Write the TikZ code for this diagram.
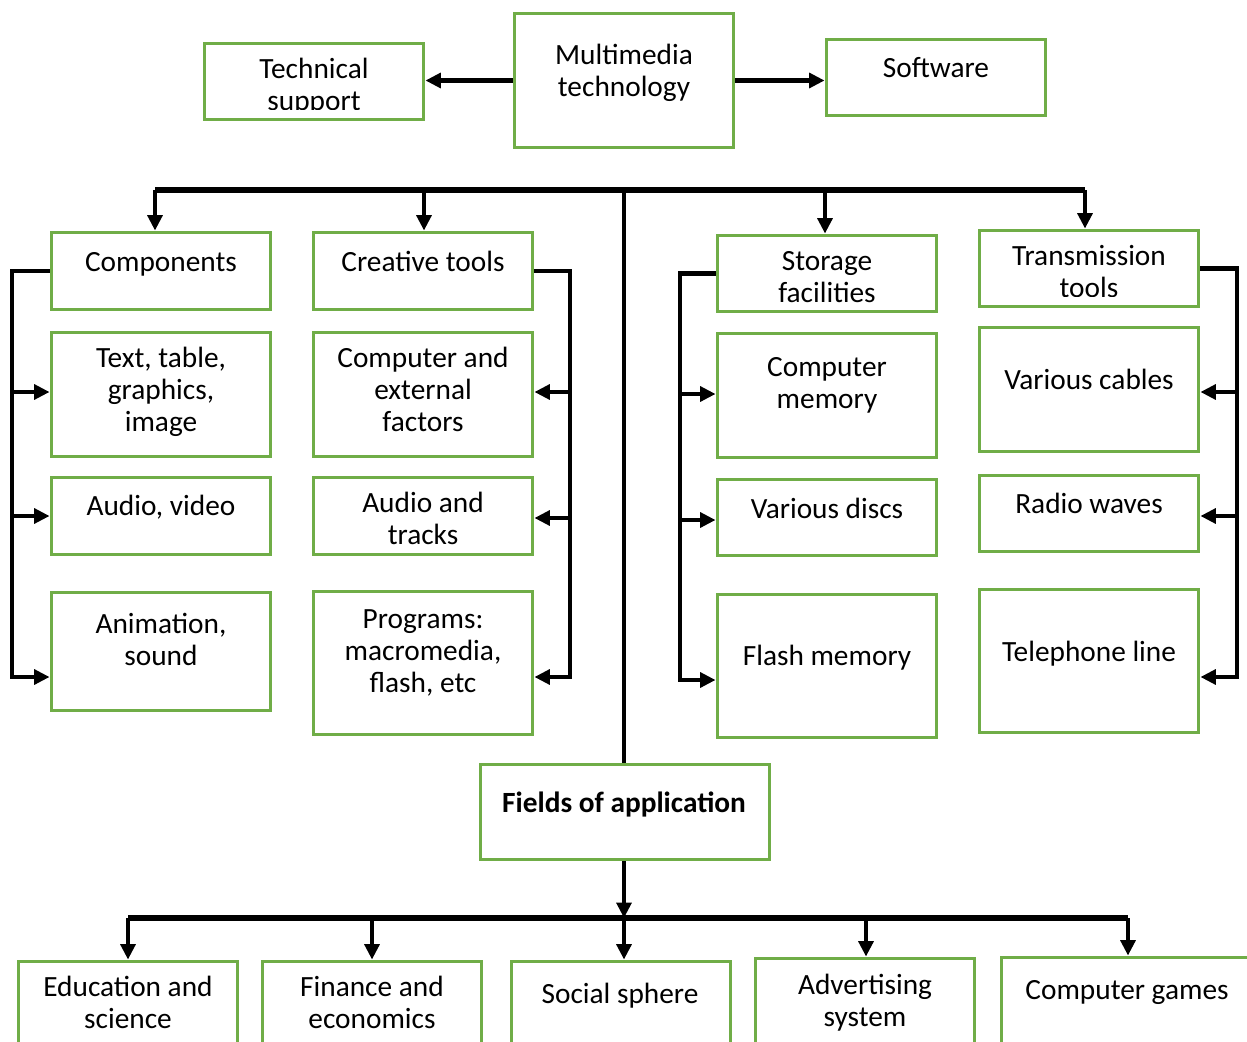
\documentclass[tikz,border=0pt]{standalone}
\usepackage{fontspec}
\setmainfont{Carlito}
\usetikzlibrary{arrows.meta,fit}
\definecolor{boxgreen}{HTML}{70AD47}
\begin{document}
\begin{tikzpicture}[x=0.75pt,y=-0.75pt,
  box/.style={draw=boxgreen, line width=2.9pt, inner sep=0pt, rectangle},
  lbl/.style={align=center, inner sep=0pt, anchor=north,
    font=\fontsize{22}{24}\selectfont, execute at begin node=\strut},
  conn/.style={line width=3.1pt, line join=miter},
  arr/.style={conn, -{Triangle[length=11.5pt,width=11pt]}},
  bus/.style={line width=4.4pt},
]
\useasboundingbox (0,0) rectangle (1247,1042);
\clip (0,0) rectangle (1247,1042);

% ---- top row
\node[box, fit={(204.5,43.5)(423.5,119.5)}] (ts) {};
\node[box, fit={(514.5,13.5)(733.5,147.5)}] (mt) {};
\node[box, fit={(826.5,39.5)(1045.5,115.5)}] (sw) {};
\begin{scope}
  \clip (205,45) rectangle (423,109);
  \node[lbl] (ts-t) at (314,58) {Technical\\support};
\end{scope}
\node[lbl] (mt-t) at (624,44) {Multimedia\\technology};
\node[lbl] (sw-t) at (936,55) {Software};

\draw[arr] (mt.west) -- (mt.west -| ts.east);
\draw[arr] (mt.east) -- (mt.east -| sw.west);

% ---- components column
\node[box, fit={(51.5,232.5)(270.5,309.5)}] (comp) {};
\node[box, fit={(51.5,332.5)(270.5,456.5)}] (ttg) {};
\node[box, fit={(51.5,477.5)(270.5,554.5)}] (av) {};
\node[box, fit={(51.5,592.5)(270.5,710.5)}] (anim) {};
\node[lbl] (comp-t) at (161,249) {Components};
\node[lbl] (ttg-t) at (161,347) {Text, table,\\graphics,\\image};
\node[lbl] (av-t) at (161,493) {Audio, video};
\node[lbl] (anim-t) at (161,613) {Animation,\\sound};

% ---- creative tools column
\node[box, fit={(313.5,232.5)(532.5,309.5)}] (ct) {};
\node[box, fit={(313.5,332.5)(532.5,456.5)}] (cef) {};
\node[box, fit={(313.5,477.5)(532.5,554.5)}] (at) {};
\node[box, fit={(313.5,591.5)(532.5,734.5)}] (prog) {};
\node[lbl] (ct-t) at (423,249) {Creative tools};
\node[lbl] (cef-t) at (423,347) {Computer and\\external\\factors};
\node[lbl] (at-t) at (423,492) {Audio and\\tracks};
\node[lbl] (prog-t) at (423,609) {Programs:\\macromedia,\\flash, etc};

% ---- storage column
\node[box, fit={(717.5,235.5)(936.5,311.5)}] (sf) {};
\node[box, fit={(717.5,333.5)(936.5,457.5)}] (cm) {};
\node[box, fit={(717.5,479.5)(936.5,555.5)}] (vd) {};
\node[box, fit={(717.5,594.5)(936.5,737.5)}] (fm) {};
\node[lbl] (sf-t) at (827,251) {Storage\\facilities};
\node[lbl] (cm-t) at (827,357) {Computer\\memory};
\node[lbl] (vd-t) at (827,496) {Various discs};
\node[lbl] (fm-t) at (827,643) {Flash memory};

% ---- transmission column
\node[box, fit={(979.5,230.5)(1198.5,306.5)}] (tt) {};
\node[box, fit={(979.5,327.5)(1198.5,451.5)}] (vc) {};
\node[box, fit={(979.5,475.5)(1198.5,551.5)}] (rw) {};
\node[box, fit={(979.5,589.5)(1198.5,732.5)}] (tl) {};
\begin{scope}
  \clip (981,232) rectangle (1197,296);
  \node[lbl] (tt-t) at (1089,245) {Transmission\\tools};
\end{scope}
\node[lbl] (vc-t) at (1089,367) {Various cables};
\node[lbl] (rw-t) at (1089,491) {Radio waves};
\node[lbl] (tl-t) at (1089,639) {Telephone line};

% ---- main distribution bus
\coordinate (busL) at (155,190);
\coordinate (busC) at (424,190);
\coordinate (busM) at (624,190);
\coordinate (busS) at (825,190);
\coordinate (busR) at (1085,190);
\node[box, fit={(480.5,764.5)(769.5,859.5)}] (fa) {};
\node[lbl, font=\fontsize{22}{24}\selectfont\bfseries] (fa-t) at (624,790) {Fields of application};

\draw[conn, line width=3.8pt] (busL) -- (busR);
\draw[conn, line width=3.4pt] (busM) -- (busM |- fa.north);
\draw[arr] (busL) -- (busL |- comp.north);
\draw[arr] (busC) -- (busC |- ct.north);
\draw[arr] (busS) -- (busS |- sf.north);
\draw[arr] (busR) -- (busR |- tt.north);

% ---- side brackets
\coordinate (L1) at (12,392);
\coordinate (L2) at (12,516);
\coordinate (L3) at (12,677);
\draw[arr] (comp.west) -| (L3) -- (L3 -| anim.west);
\draw[arr] (L1) -- (L1 -| ttg.west);
\draw[arr] (L2) -- (L2 -| av.west);

\coordinate (C1) at (570,392);
\coordinate (C2) at (570,518);
\coordinate (C3) at (570,677);
\draw[arr] (ct.east) -| (C3) -- (C3 -| prog.east);
\draw[arr] (C1) -- (C1 -| cef.east);
\draw[arr] (C2) -- (C2 -| at.east);

\coordinate (S1) at (680,394);
\coordinate (S2) at (680,520);
\coordinate (S3) at (680,680);
\draw[arr] (sf.west) -| (S3) -- (S3 -| fm.west);
\draw[arr] (S1) -- (S1 -| cm.west);
\draw[arr] (S2) -- (S2 -| vd.west);

\coordinate (T1) at (1237,392);
\coordinate (T2) at (1237,516);
\coordinate (T3) at (1237,677);
\draw[arr] (tt.east) -| (T3) -- (T3 -| tl.east);
\draw[arr] (T1) -- (T1 -| vc.east);
\draw[arr] (T2) -- (T2 -| rw.east);

% ---- fields of application
\node[box, fit={(18.5,961.5)(237.5,1060)}] (edu) {};
\node[box, fit={(262.5,961.5)(481.5,1060)}] (fin) {};
\node[box, fit={(511.5,961.5)(730.5,1060)}] (soc) {};
\node[box, fit={(755.5,958.5)(974.5,1060)}] (adv) {};
\node[box, fit={(1001.5,957.5)(1262,1060)}] (cg) {};
\node[lbl] (edu-t) at (128,976) {Education and\\science};
\node[lbl] (fin-t) at (372,976) {Finance and\\economics};
\node[lbl] (soc-t) at (620,981) {Social sphere};
\node[lbl] (adv-t) at (865,974) {Advertising\\system};
\node[lbl] (cg-t) at (1127,977) {Computer games};

\coordinate (B) at (624,918);
\coordinate (BL) at (128,918);
\coordinate (BF) at (372,918);
\coordinate (BA) at (866,918);
\coordinate (BR) at (1128,918);
\draw[bus] (BL) -- (BR);
\draw[arr] (B |- fa.south) -- (B);
\draw[arr] (BL) -- (BL |- edu.north);
\draw[arr] (BF) -- (BF |- fin.north);
\draw[arr] (B) -- (B |- soc.north);
\draw[arr] (BA) -- (BA |- adv.north);
\draw[arr] (BR) -- (BR |- cg.north);
\end{tikzpicture}
\end{document}
